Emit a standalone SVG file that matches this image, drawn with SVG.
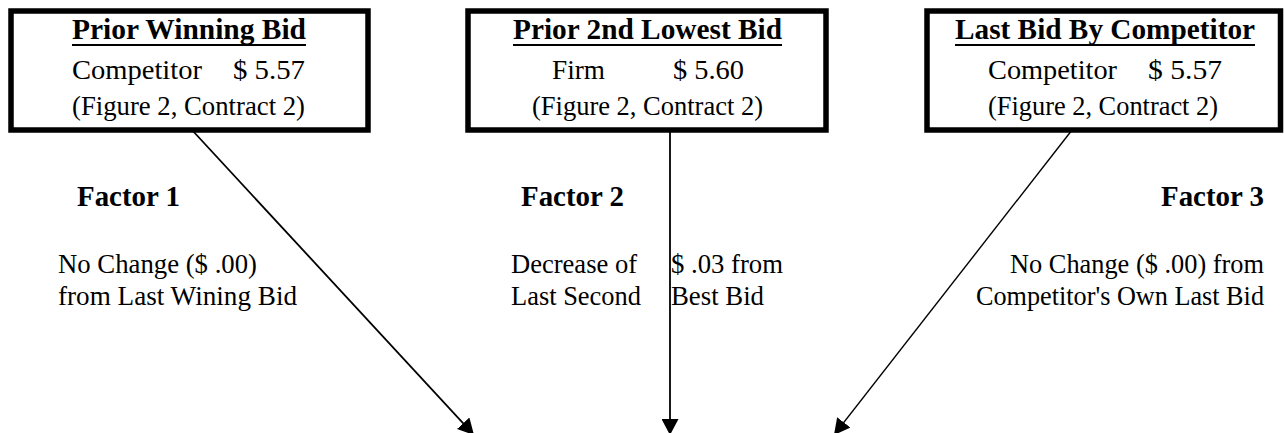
<svg xmlns="http://www.w3.org/2000/svg" width="1284" height="433" viewBox="0 0 1284 433">
<style>
.box{fill:#fff;stroke:#000;stroke-width:5.5}
.t{font-family:"Liberation Serif","Times New Roman",serif;fill:#000}
.h{font-weight:bold;font-size:29px}
.r{font-size:28px}
.s{font-size:26.5px}
.f{font-weight:bold;font-size:28.5px}
.b{font-size:26.5px}
.ul{stroke:#000;stroke-width:2.2}
.c{stroke:#000;fill:none}
</style>
<defs>
<marker id="ah" markerUnits="userSpaceOnUse" markerWidth="16" markerHeight="17" refX="16" refY="8.5" orient="auto" viewBox="0 0 16 17">
<path d="M0,0 L16,8.5 L0,17 z" fill="#000"/>
</marker>
</defs>
<rect x="0" y="0" width="1284" height="433" fill="#fff"/>
<g id="box-prior-winning">
<rect class="box" x="11" y="11" width="357" height="119"/>
<text class="t h" x="72" y="39" textLength="234" lengthAdjust="spacingAndGlyphs">Prior Winning Bid</text>
<line class="ul" x1="72" y1="45" x2="306" y2="45"/>
<text class="t r" x="72" y="79" textLength="130" lengthAdjust="spacingAndGlyphs">Competitor</text>
<text class="t r" x="233" y="79" textLength="72" lengthAdjust="spacingAndGlyphs">$ 5.57</text>
<text class="t s" x="72" y="115" textLength="233" lengthAdjust="spacingAndGlyphs">(Figure 2, Contract 2)</text>
</g>
<g id="box-prior-2nd">
<rect class="box" x="468" y="11" width="358" height="119"/>
<text class="t h" x="513" y="39" textLength="269" lengthAdjust="spacingAndGlyphs">Prior 2nd Lowest Bid</text>
<line class="ul" x1="513" y1="45" x2="782" y2="45"/>
<text class="t r" x="552" y="79" textLength="53" lengthAdjust="spacingAndGlyphs">Firm</text>
<text class="t r" x="673" y="79" textLength="71" lengthAdjust="spacingAndGlyphs">$ 5.60</text>
<text class="t s" x="532" y="115" textLength="231" lengthAdjust="spacingAndGlyphs">(Figure 2, Contract 2)</text>
</g>
<g id="box-last-competitor">
<rect class="box" x="927" y="11" width="353.5" height="119"/>
<text class="t h" x="955" y="39" textLength="300" lengthAdjust="spacingAndGlyphs">Last Bid By Competitor</text>
<line class="ul" x1="955" y1="45" x2="1255" y2="45"/>
<text class="t r" x="988" y="79" textLength="129" lengthAdjust="spacingAndGlyphs">Competitor</text>
<text class="t r" x="1148" y="79" textLength="74" lengthAdjust="spacingAndGlyphs">$ 5.57</text>
<text class="t s" x="988" y="115" textLength="230" lengthAdjust="spacingAndGlyphs">(Figure 2, Contract 2)</text>
</g>
<g id="factor1">
<text class="t f" x="77" y="206" textLength="103" lengthAdjust="spacingAndGlyphs">Factor 1</text>
<text class="t b" x="58" y="273" textLength="199" lengthAdjust="spacingAndGlyphs">No Change ($ .00)</text>
<text class="t b" x="58" y="305" textLength="239" lengthAdjust="spacingAndGlyphs">from Last Wining Bid</text>
</g>
<g id="factor2">
<text class="t f" x="521" y="206" textLength="103" lengthAdjust="spacingAndGlyphs">Factor 2</text>
<text class="t b" x="511" y="273" textLength="126" lengthAdjust="spacingAndGlyphs">Decrease of</text>
<text class="t b" x="511" y="305" textLength="130" lengthAdjust="spacingAndGlyphs">Last Second</text>
<text class="t b" x="671" y="273" textLength="112" lengthAdjust="spacingAndGlyphs">$ .03 from</text>
<text class="t b" x="671" y="305" textLength="93" lengthAdjust="spacingAndGlyphs">Best Bid</text>
</g>
<g id="factor3">
<text class="t f" x="1264" y="206" text-anchor="end" textLength="103" lengthAdjust="spacingAndGlyphs">Factor 3</text>
<text class="t b" x="1264" y="273" text-anchor="end" textLength="254" lengthAdjust="spacingAndGlyphs">No Change ($ .00) from</text>
<text class="t b" x="1264" y="305" text-anchor="end" textLength="288" lengthAdjust="spacingAndGlyphs">Competitor's Own Last Bid</text>
</g>
<g id="connectors">
<line class="c" x1="192" y1="130" x2="474" y2="435" stroke-width="1.8" marker-end="url(#ah)"/>
<line class="c" x1="670" y1="130" x2="670" y2="435" stroke-width="1.8" marker-end="url(#ah)"/>
<line class="c" x1="1072" y1="130" x2="834" y2="435" stroke-width="1.4" marker-end="url(#ah)"/>
</g>
</svg>
